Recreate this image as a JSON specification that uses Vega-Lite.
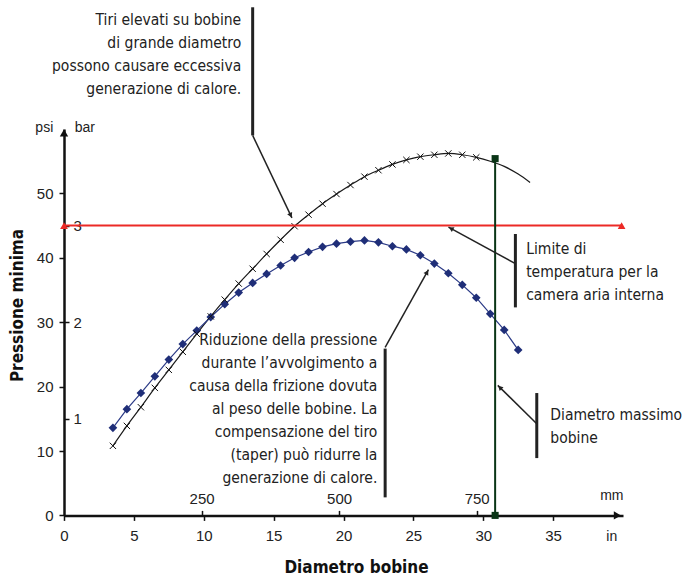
{
  "$schema": "https://vega.github.io/schema/vega-lite/v6.json",
  "width": 559,
  "height": 386.4,
  "autosize": {"type": "none"},
  "padding": {"left": 64, "top": 129, "right": 65, "bottom": 62.6},
  "background": "white",
  "config": {
    "view": {"stroke": null},
    "axis": {"grid": false, "labelFont": "Liberation Sans", "labelFontSize": 15, "labelColor": "#222", "domainColor": "#111", "tickColor": "#111", "titleColor": "#111", "labelFlush": false}
  },
  "datasets": {
    "black": [
      {"x": 3.5, "y": 10.8}, {"x": 4.5, "y": 13.9}, {"x": 5.5, "y": 16.8}, {"x": 6.5, "y": 19.8},
      {"x": 7.5, "y": 22.6}, {"x": 8.5, "y": 25.4}, {"x": 9.5, "y": 28.2}, {"x": 10.5, "y": 30.9},
      {"x": 11.5, "y": 33.5}, {"x": 12.5, "y": 36.0}, {"x": 13.5, "y": 38.3}, {"x": 14.5, "y": 40.6},
      {"x": 15.5, "y": 42.8}, {"x": 16.5, "y": 44.9}, {"x": 17.5, "y": 46.7}, {"x": 18.5, "y": 48.4},
      {"x": 19.5, "y": 49.9}, {"x": 20.5, "y": 51.3}, {"x": 21.5, "y": 52.6}, {"x": 22.5, "y": 53.6},
      {"x": 23.5, "y": 54.5}, {"x": 24.5, "y": 55.2}, {"x": 25.5, "y": 55.7}, {"x": 26.5, "y": 56.0},
      {"x": 27.5, "y": 56.2}, {"x": 28.5, "y": 56.0}, {"x": 29.5, "y": 55.6}, {"x": 30.5, "y": 55.0},
      {"x": 31.5, "y": 54.2}, {"x": 32.5, "y": 53.0}, {"x": 33.35, "y": 51.7}
    ],
    "blue": [
      {"x": 3.5, "y": 13.6}, {"x": 4.5, "y": 16.5}, {"x": 5.5, "y": 19.0}, {"x": 6.5, "y": 21.6},
      {"x": 7.5, "y": 24.2}, {"x": 8.5, "y": 26.6}, {"x": 9.5, "y": 28.7}, {"x": 10.5, "y": 30.8},
      {"x": 11.5, "y": 32.8}, {"x": 12.5, "y": 34.6}, {"x": 13.5, "y": 36.1}, {"x": 14.5, "y": 37.5},
      {"x": 15.5, "y": 38.8}, {"x": 16.5, "y": 40.0}, {"x": 17.5, "y": 40.9}, {"x": 18.5, "y": 41.7},
      {"x": 19.5, "y": 42.2}, {"x": 20.5, "y": 42.5}, {"x": 21.5, "y": 42.7}, {"x": 22.5, "y": 42.4},
      {"x": 23.5, "y": 41.8}, {"x": 24.5, "y": 41.3}, {"x": 25.5, "y": 40.4}, {"x": 26.5, "y": 39.1},
      {"x": 27.5, "y": 37.6}, {"x": 28.5, "y": 35.8}, {"x": 29.5, "y": 33.8}, {"x": 30.5, "y": 31.3},
      {"x": 31.5, "y": 28.8}, {"x": 32.5, "y": 25.7}
    ],
    "redline": [{"x": 0, "y": 45}, {"x": 39.9, "y": 45}],
    "green": [{"x": 30.85, "y": 0}, {"x": 30.85, "y": 55.4}],
    "bars": [
      {"x": 13.5, "y": 78.9, "x2": 13.5, "y2": 59.0},
      {"x": 32.3, "y": 43.7, "x2": 32.3, "y2": 32.3},
      {"x": 22.98, "y": 25.9, "x2": 22.98, "y2": 2.8},
      {"x": 33.83, "y": 19.0, "x2": 33.83, "y2": 8.9}
    ],
    "arrows": [
      {"x": 13.5, "y": 59.0, "x2": 16.31, "y2": 46.2},
      {"x": 32.3, "y": 39.1, "x2": 27.51, "y2": 44.77},
      {"x": 22.98, "y": 26.1, "x2": 26.08, "y2": 38.15},
      {"x": 33.83, "y": 14.24, "x2": 31.04, "y2": 20.19}
    ],
    "notesRight": [
      {"x": 12.68, "y": 78.0, "text": "Tiri elevati su bobine\ndi grande diametro\npossono causare eccessiva\ngenerazione di calore."},
      {"x": 22.42, "y": 28.3, "text": "Riduzione della pressione\ndurante l’avvolgimento a\ncausa della frizione dovuta\nal peso delle bobine. La\ncompensazione del tiro\n(taper) può ridurre la\ngenerazione di calore."}
    ],
    "notesLeft": [
      {"x": 33.07, "y": 42.4, "text": "Limite di\ntemperatura per la\ncamera aria interna"},
      {"x": 34.8, "y": 16.6, "text": "Diametro massimo\nbobine"}
    ],
    "units": [
      {"x": -1.41, "y": 60.1, "text": "psi"},
      {"x": 1.49, "y": 60.1, "text": "bar"},
      {"x": 39.2, "y": 2.95, "text": "mm"},
      {"x": 39.2, "y": -3.42, "text": "in"}
    ]
  },
  "encoding": {
    "x": {"field": "x", "type": "quantitative", "scale": {"domain": [0, 40], "nice": false, "zero": false}, "axis": null},
    "y": {"field": "y", "type": "quantitative", "scale": {"domain": [0, 60], "nice": false, "zero": false}, "axis": null}
  },
  "resolve": {"axis": {"x": "independent", "y": "independent"}},
  "layer": [
    {
      "data": {"name": "black"},
      "mark": {"type": "line", "color": "#1a1a1a", "strokeWidth": 1.2, "interpolate": "monotone"},
      "encoding": {
        "x": {"field": "x", "type": "quantitative", "scale": {"domain": [0, 40], "nice": false, "zero": false},
          "axis": {"orient": "bottom", "values": [0, 5, 10, 15, 20, 25, 30, 35], "tickSize": 5, "tickWidth": 1.5, "domainWidth": 2.5, "labelPadding": 8,
            "title": "Diametro bobine", "titleFont": "DejaVu Sans Condensed", "titleFontWeight": "bold", "titleFontSize": 17, "titleX": 292, "titleY": 52, "titleBaseline": "middle", "titleAlign": "center"}},
        "y": {"field": "y", "type": "quantitative", "scale": {"domain": [0, 60], "nice": false, "zero": false},
          "axis": {"orient": "left", "values": [0, 10, 20, 30, 40, 50], "tickSize": 5, "tickWidth": 1.5, "domainWidth": 2.5, "labelPadding": 6,
            "title": "Pressione minima", "titleFont": "DejaVu Sans Condensed", "titleFontWeight": "bold", "titleFontSize": 17, "titleX": -47, "titleY": 176, "titleBaseline": "middle", "titleAlign": "center", "titleAngle": -90}}
      }
    },
    {
      "data": {"name": "blue"},
      "mark": {"type": "line", "color": "#2b3a86", "strokeWidth": 1.2},
      "encoding": {
        "x": {"field": "x", "type": "quantitative", "scale": {"domain": [0, 40], "nice": false, "zero": false},
          "axis": {"orient": "top", "offset": -386.4, "values": [9.8425, 19.685, 29.5276], "labelExpr": "format(datum.value*25.4, '.0f')", "domain": false, "tickSize": 5, "tickWidth": 1.5, "labelPadding": 4, "title": null}},
        "y": {"field": "y", "type": "quantitative", "scale": {"domain": [0, 60], "nice": false, "zero": false},
          "axis": {"orient": "right", "offset": -559, "values": [15, 30, 45], "labelExpr": "format(datum.value/15, '.0f')", "domain": false, "tickSize": 5, "tickWidth": 1.5, "labelPadding": 4, "title": null}}
      }
    },
    {
      "data": {"name": "blue"},
      "mark": {"type": "point", "shape": "diamond", "filled": true, "size": 75, "color": "#1f2e78", "opacity": 1}
    },
    {
      "data": {"name": "black"},
      "transform": [{"filter": "datum.x <= 29.6"}],
      "mark": {"type": "point", "shape": "M-1,-1L1,1M-1,1L1,-1", "filled": false, "size": 40, "color": "#111", "strokeWidth": 1, "opacity": 1}
    },
    {
      "data": {"name": "redline"},
      "mark": {"type": "line", "color": "#ec2a26", "strokeWidth": 2}
    },
    {
      "data": {"name": "redline"},
      "mark": {"type": "point", "shape": "triangle-up", "filled": true, "size": 60, "color": "#ec2a26", "opacity": 1}
    },
    {
      "data": {"name": "green"},
      "mark": {"type": "line", "color": "#0a3516", "strokeWidth": 2}
    },
    {
      "data": {"name": "green"},
      "mark": {"type": "point", "shape": "square", "filled": true, "size": 50, "color": "#0a3516", "opacity": 1}
    },
    {
      "data": {"values": [{"x": 0, "y": 59.4}]},
      "mark": {"type": "point", "shape": "triangle-up", "filled": true, "size": 70, "color": "#111", "opacity": 1}
    },
    {
      "data": {"values": [{"x": 39.6, "y": 0}]},
      "mark": {"type": "point", "shape": "triangle-right", "filled": true, "size": 70, "color": "#111", "opacity": 1}
    },
    {
      "data": {"name": "bars"},
      "mark": {"type": "rule", "color": "#222", "strokeWidth": 3},
      "encoding": {"x2": {"field": "x2"}, "y2": {"field": "y2"}}
    },
    {
      "data": {"name": "arrows"},
      "mark": {"type": "rule", "color": "#222", "strokeWidth": 1.5},
      "encoding": {"x2": {"field": "x2"}, "y2": {"field": "y2"}}
    },
    {
      "data": {"values": [{"x": 16.22, "y": 46.6}]},
      "mark": {"type": "point", "shape": "triangle-up", "filled": true, "size": 30, "color": "#222", "opacity": 1, "angle": 154.6}
    },
    {
      "data": {"values": [{"x": 27.7, "y": 44.54}]},
      "mark": {"type": "point", "shape": "triangle-up", "filled": true, "size": 30, "color": "#222", "opacity": 1, "angle": 299.6}
    },
    {
      "data": {"values": [{"x": 25.98, "y": 37.75}]},
      "mark": {"type": "point", "shape": "triangle-up", "filled": true, "size": 30, "color": "#222", "opacity": 1, "angle": 29.2}
    },
    {
      "data": {"values": [{"x": 31.19, "y": 19.86}]},
      "mark": {"type": "point", "shape": "triangle-up", "filled": true, "size": 30, "color": "#222", "opacity": 1, "angle": 314.5}
    },
    {
      "data": {"name": "notesRight"},
      "mark": {"type": "text", "align": "right", "baseline": "top", "lineBreak": "\n", "lineHeight": 23, "font": "DejaVu Sans Condensed", "fontSize": 15.5, "color": "#222"},
      "encoding": {"text": {"field": "text"}}
    },
    {
      "data": {"name": "notesLeft"},
      "mark": {"type": "text", "align": "left", "baseline": "top", "lineBreak": "\n", "lineHeight": 23, "font": "DejaVu Sans Condensed", "fontSize": 15.5, "color": "#222"},
      "encoding": {"text": {"field": "text"}}
    },
    {
      "data": {"name": "units"},
      "mark": {"type": "text", "align": "center", "baseline": "middle", "font": "Liberation Sans", "fontSize": 14, "color": "#222"},
      "encoding": {"text": {"field": "text"}}
    }
  ]
}
